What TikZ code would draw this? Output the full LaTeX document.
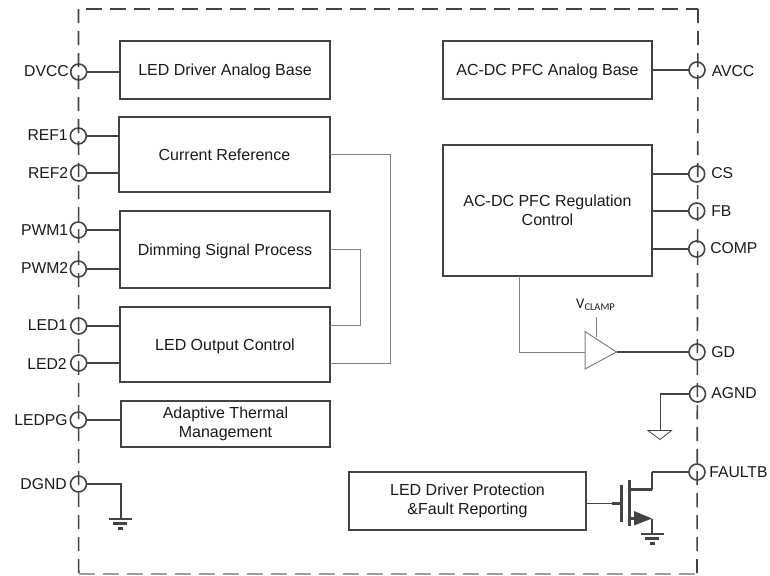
\documentclass[tikz,border=0pt]{standalone}
\usepackage{fontspec}
\setmainfont{Liberation Sans}
\newfontfamily\vclampfont{Carlito}
\usetikzlibrary{calc}
\definecolor{ln}{HTML}{444444}
\definecolor{thinln}{HTML}{808080}
\definecolor{txt}{HTML}{1A1A1A}
\tikzset{
  blk/.style={draw=ln,line width=1.3pt,inner sep=0pt,outer sep=0pt,align=center,text=txt,font=\fontsize{12}{14.6}\selectfont},
  blkone/.style={blk,text height=8.6pt,text depth=0pt},
  pin/.style={circle,draw=ln,line width=1.2pt,minimum size=12pt,inner sep=0pt,outer sep=0pt},
  lbl/.style={text=txt,inner sep=0pt,font=\fontsize{11.8}{13}\selectfont},
  lleft/.style={lbl,anchor=east},
  lright/.style={lbl,anchor=west},
  wire/.style={draw=ln,line width=1.3pt},
  wirethin/.style={draw=thinln,line width=0.75pt},
  fram/.style={draw=ln,line width=1.2pt,dash pattern=on 10.5pt off 6pt},
  framtop/.style={draw=ln,line width=1.2pt,dash pattern=on 12pt off 6pt},
  framlight/.style={draw=black!38,line width=1.2pt,dash pattern=on 12pt off 6pt},
  heavy/.style={draw=ln,line width=2.2pt},
}
\begin{document}
\begin{tikzpicture}[x=0.75pt,y=-0.75pt]
\useasboundingbox (0,0) rectangle (770,575);
% frame
\coordinate (tl) at (78.5,9);
\coordinate (tr) at (698,9);
\coordinate (bl) at (78.7,574);
\coordinate (br) at (697,574);
\draw[framtop] (86,9) -- (tr);
\draw[fram] (tl) -- (bl);
\draw[fram] (tr) -- (br);
\draw[framlight] (bl) -- (br);
% blocks
\node[blkone,minimum width=210*0.75pt,minimum height=58*0.75pt] (base) at (225,70) {LED Driver Analog Base};
\node[blkone,minimum width=211*0.75pt,minimum height=75*0.75pt] (cref) at (224.5,154.5) {Current Reference};
\node[blkone,minimum width=210*0.75pt,minimum height=77*0.75pt] (dim) at (225,249.5) {Dimming Signal Process};
\node[blkone,minimum width=210*0.75pt,minimum height=75*0.75pt] (out) at (225,344.5) {LED Output Control};
\node[blk,minimum width=209*0.75pt,minimum height=46*0.75pt] (therm) at (225.5,424) {Adaptive Thermal\\Management};
\node[blk,minimum width=237*0.75pt,minimum height=58*0.75pt] (prot) at (467.5,501) {LED Driver Protection\\\&Fault Reporting};
\node[blkone,minimum width=209*0.75pt,minimum height=58*0.75pt] (pfcb) at (547.5,70) {AC-DC PFC Analog Base};
\node[blk,minimum width=209*0.75pt,minimum height=131*0.75pt] (pfcr) at (547.5,210.5) {AC-DC PFC Regulation\\Control};
% pins
\node[pin] (dvcc) at (78.7,72) {};
\node[pin] (ref1) at (78.3,136) {};
\node[pin] (ref2) at (78.7,173) {};
\node[pin] (pwm1) at (78.3,230) {};
\node[pin] (pwm2) at (78.3,269) {};
\node[pin] (led1) at (78.7,326) {};
\node[pin] (led2) at (78.7,363) {};
\node[pin] (ledpg) at (78.3,420) {};
\node[pin] (dgnd) at (78.5,484) {};
\node[pin] (avcc) at (697,70) {};
\node[pin] (cs) at (696.7,174) {};
\node[pin] (fb) at (696.7,211) {};
\node[pin] (comp) at (696.7,249) {};
\node[pin] (gd) at (697,352) {};
\node[pin] (agnd) at (697.5,394) {};
\node[pin] (fltb) at (697,472) {};
% labels
\node[lleft] at (69,71) {DVCC};
\node[lleft] at (68,135.5) {REF1};
\node[lleft] at (68.5,173.5) {REF2};
\node[lleft] at (68.5,230) {PWM1};
\node[lleft] at (68.5,268.5) {PWM2};
\node[lleft] at (67.5,325.5) {LED1};
\node[lleft] at (67,363.5) {LED2};
\node[lleft] at (68,420) {LEDPG};
\node[lleft] at (67,484) {DGND};
\node[lright] at (711.5,71) {AVCC};
\node[lright] at (711,173.5) {CS};
\node[lright] at (711,211) {FB};
\node[lright] at (710,248.5) {COMP};
\node[lright] at (711,352) {GD};
\node[lright] at (711,393.5) {AGND};
\node[lright] at (709,472) {FAULTB};
% pin wires
\draw[wire] (dvcc.east) -- (dvcc.east -| base.west);
\draw[wire] (ref1.east) -- (ref1.east -| cref.west);
\draw[wire] (ref2.east) -- (ref2.east -| cref.west);
\draw[wire] (pwm1.east) -- (pwm1.east -| dim.west);
\draw[wire] (pwm2.east) -- (pwm2.east -| dim.west);
\draw[wire] (led1.east) -- (led1.east -| out.west);
\draw[wire] (led2.east) -- (led2.east -| out.west);
\draw[wire] (ledpg.east) -- (ledpg.east -| therm.west);
\draw[wire] (avcc.west) -- (avcc.west -| pfcb.east);
\draw[wire] (cs.west) -- (cs.west -| pfcr.east);
\draw[wire] (fb.west) -- (fb.west -| pfcr.east);
\draw[wire] (comp.west) -- (comp.west -| pfcr.east);
% internal thin wires
\coordinate (c1) at (390,154.5);
\coordinate (c2) at (390,363);
\draw[wirethin] (cref.east) -- (c1) -- (c2) -- (c2 -| out.east);
\coordinate (d1) at (360,249.5);
\coordinate (d2) at (360,325);
\draw[wirethin] (d1 -| dim.east) -- (d1) -- (d2) -- (d2 -| out.east);
% amplifier
\coordinate (ampin) at (585,352);
\coordinate (ampout) at (616.5,352);
\coordinate (ampt) at (585,331.5);
\coordinate (ampb) at (585,369);
\draw[wirethin,line join=miter] (ampt) -- (ampout) -- (ampb) -- cycle;
\coordinate (pf1) at (519.7,352);
\draw[wirethin] (pf1 |- pfcr.south) -- (pf1) -- (ampin);
\coordinate (vc1) at (596,316.7);
\draw[wirethin] (596,337) -- (vc1);
\node[text=txt,inner sep=0pt,font=\vclampfont\fontsize{11}{12}\selectfont] (vclamp) at (595.5,304.5) {V\raisebox{-1.4pt}{\fontsize{7.8}{8}\selectfont CLAMP}};
\draw[draw=ln,line width=1.6pt] (ampout) -- (gd.west);
% AGND ground
\coordinate (ag1) at (660.5,394);
\coordinate (ag2) at (660.5,430);
\draw[wire,line width=1pt] (agnd.west) -- (ag1) -- (ag2);
\draw[draw=ln,line width=0.6pt,line join=miter] (648,430.5) -- (671.5,430.5) -- (660,439.5) -- cycle;
% DGND ground
\coordinate (dg1) at (120.7,484);
\coordinate (dg2) at (120.7,518);
\draw[wire] (dgnd.east) -- (dg1) -- (dg2);
\fill[ln] (109,517.5) rectangle (132,519.7);
\fill[ln] (113,522.3) rectangle (127,524.5);
\fill[ln] (118,527) rectangle (122.5,529.5);
% MOSFET
\coordinate (gate) at (621.3,503.5);
\coordinate (dr0) at (629.3,489.7);
\coordinate (dr1) at (652,489.7);
\coordinate (dr2) at (652,472);
\coordinate (sr0) at (629.3,518.5);
\coordinate (sr1) at (652,518.5);
\coordinate (sr2) at (652,533);
\draw[wire] (gate -| prot.east) -- (612,503.5);
\draw[heavy] (612,503.5) -- (gate);
\draw[draw=ln,line width=2.6pt] (621.3,485) -- (621.3,522);
\draw[draw=ln,line width=2.6pt] (629.3,480) -- (629.3,526);
\draw[heavy] (dr0) -- (dr1);
\draw[wire,line width=1.5pt] (dr1) -- (dr2);
\draw[wire] (dr2) -- (fltb.west);
\draw[heavy] (sr0) -- (634,518.5);
\fill[ln] (634,511) -- (652,518.5) -- (634,525.5) -- cycle;
\draw[wire] (sr1) -- (sr2);
\fill[ln] (641,532.5) rectangle (664,534.7);
\fill[ln] (645,537.3) rectangle (659,539.5);
\fill[ln] (650,542) rectangle (654.5,544.5);
\end{tikzpicture}
\end{document}
